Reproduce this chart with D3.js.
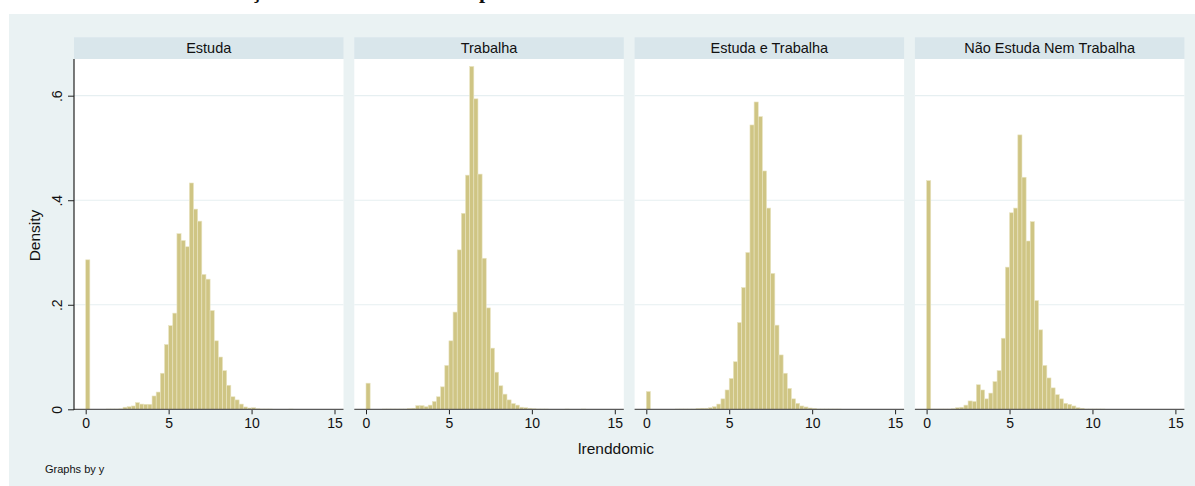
<!DOCTYPE html>
<html>
<head>
<meta charset="utf-8">
<script src="https://cdn.jsdelivr.net/npm/d3@7"></script>
<style>
  html, body { margin: 0; padding: 0; background: #ffffff; }
  svg { display: block; }
  text { font-family: "Liberation Sans", Arial, Helvetica, sans-serif; }
</style>
</head>
<body>
<svg id="chart" width="1195" height="486"></svg>
<script>
// ---------------- data ----------------
const panels = ["Estuda", "Trabalha", "Estuda e Trabalha", "Não Estuda Nem Trabalha"];
const binWidth = 0.25;           // histogram bin width (bins start at 0)
const xTicks = [0, 5, 10, 15];
const yTicks = [0, 0.2, 0.4, 0.6];
const yTickLabels = ["0", ".2", ".4", ".6"];

// density per bin (bin i covers [i*0.25, (i+1)*0.25))
const densEstuda = [
  0.286, 0, 0, 0, 0, 0.0005, 0.0005, 0.0005, 0.0008, 0.004,
  0.005, 0.0064, 0.0128, 0.010, 0.0096, 0.0096, 0.0255, 0.033, 0.069, 0.124,
  0.160, 0.184, 0.336, 0.323, 0.311, 0.433, 0.383, 0.360, 0.258, 0.249,
  0.189, 0.131, 0.100, 0.074, 0.046, 0.024, 0.018, 0.010, 0.0045, 0.0025,
  0.003, 0.001, 0.0005, 0.0005, 0.0005, 0, 0, 0, 0, 0.0005,
  0, 0, 0, 0, 0, 0, 0, 0, 0, 0
];
const densTrabalha = [
  0.050, 0, 0, 0, 0.0005, 0.0005, 0.0005, 0.0005, 0.0005, 0.0005,
  0.0015, 0.002, 0.007, 0.007, 0.005, 0.008, 0.015, 0.024, 0.043, 0.084,
  0.131, 0.186, 0.305, 0.375, 0.448, 0.656, 0.594, 0.450, 0.289, 0.194,
  0.117, 0.071, 0.045, 0.029, 0.018, 0.011, 0.008, 0.004, 0.003, 0.002,
  0.001, 0.0005, 0.0005, 0.0005, 0, 0, 0, 0, 0.0005, 0,
  0, 0, 0.0005, 0, 0, 0, 0, 0, 0, 0
];
const densEstudaTrabalha = [
  0.034, 0, 0, 0, 0, 0, 0, 0.0005, 0.0005, 0.0005,
  0.0005, 0.0005, 0.0015, 0.002, 0.002, 0.003, 0.005, 0.010, 0.020, 0.037,
  0.059, 0.091, 0.166, 0.233, 0.300, 0.544, 0.588, 0.560, 0.456, 0.385,
  0.260, 0.161, 0.104, 0.069, 0.040, 0.020, 0.0115, 0.0064, 0.0045, 0.0025,
  0.0015, 0.0005, 0.0005, 0.0005, 0.0005, 0.0005, 0.0005, 0, 0, 0,
  0, 0, 0, 0, 0, 0, 0, 0, 0, 0
];
const densNenhum = [
  0.4375, 0.0004, 0.0004, 0.0004, 0.0004, 0.0004, 0.001, 0.003, 0.004, 0.008,
  0.016, 0.015, 0.047, 0.037, 0.020, 0.031, 0.053, 0.074, 0.136, 0.272,
  0.376, 0.385, 0.525, 0.444, 0.322, 0.359, 0.208, 0.152, 0.084, 0.060,
  0.041, 0.028, 0.020, 0.0115, 0.0096, 0.0064, 0.003, 0.002, 0.0005, 0.0005,
  0.0005, 0.0005, 0.0005, 0, 0, 0, 0, 0, 0, 0,
  0, 0, 0, 0, 0, 0, 0, 0, 0, 0
];
const seriesList = [densEstuda, densTrabalha, densEstudaTrabalha, densNenhum];

// ---------------- layout ----------------
const svg = d3.select("#chart");
const W = 1195, H = 486;
const firstLeft = 74, panelStep = 280.3, panelW = 269.5;
const stripTop = 37.3, plotTop = 59, baseY = 409.3;
const xPad0 = 11.7, xPad15 = 260.5;

// outer background
svg.append("rect").attr("x", 9).attr("y", 14).attr("width", W - 9).attr("height", H - 14)
  .attr("fill", "#eaf2f3");

// page title above the graph, cut off by the top edge (only descenders show)
svg.append("text")
  .attr("x", 167).attr("y", -2)
  .attr("font-weight", "bold").attr("font-size", 22).attr("fill", "#111")
  .style("font-family", "'Liberation Serif', 'Times New Roman', serif")
  .text("Distribuição da renda domiciliar por atividade");

const y = d3.scaleLinear().domain([0, 0.6]).range([baseY, 95.7]);

panels.forEach((name, pi) => {
  const left = firstLeft + pi * panelStep;
  const x = d3.scaleLinear().domain([0, 15]).range([left + xPad0, left + xPad15]);
  const g = svg.append("g");

  // plot area
  g.append("rect").attr("x", left).attr("y", plotTop).attr("width", panelW).attr("height", baseY - plotTop)
    .attr("fill", "#ffffff");
  // strip
  g.append("rect").attr("x", left).attr("y", stripTop).attr("width", panelW).attr("height", plotTop - stripTop)
    .attr("fill", "#d9e6eb");
  g.append("text").attr("x", left + panelW / 2).attr("y", 53.3)
    .attr("text-anchor", "middle").attr("font-size", 14.5).attr("fill", "#111")
    .text(name);

  // gridlines
  g.selectAll(".grid").data(yTicks.filter(d => d > 0)).enter().append("line")
    .attr("x1", left).attr("x2", left + panelW)
    .attr("y1", d => y(d)).attr("y2", d => y(d))
    .attr("stroke", "#e6eff1").attr("stroke-width", 1.2);

  // bars
  const vals = seriesList[pi];
  g.selectAll(".bar").data(vals.map((v, i) => ({ i, v })).filter(d => d.v > 0)).enter().append("rect")
    .attr("x", d => x(d.i * binWidth))
    .attr("width", d => x((d.i + 1) * binWidth) - x(d.i * binWidth))
    .attr("y", d => y(d.v))
    .attr("height", d => baseY - y(d.v))
    .attr("fill", "#cfc584")
    .attr("stroke", "#e9e4c2").attr("stroke-width", 0.6);

  // x axis
  const xAxis = d3.axisBottom(x).tickValues(xTicks).tickSize(5).tickPadding(4).tickFormat(d3.format("d"));
  const ax = g.append("g").attr("transform", `translate(0,${baseY})`).call(xAxis);
  ax.select(".domain").remove();
  ax.append("line").attr("x1", left).attr("x2", left + panelW).attr("y1", 0).attr("y2", 0)
    .attr("stroke", "#5a5a5a").attr("stroke-width", 1.2);
  ax.selectAll(".tick line").attr("stroke", "#222");
  ax.selectAll(".tick text").attr("font-size", 14).attr("fill", "#111")
    .attr("font-family", "'Liberation Sans', Arial, sans-serif");

  if (pi === 0) {
    const yAxis = d3.axisLeft(y).tickValues(yTicks).tickSize(6).tickFormat((d, i) => yTickLabels[i]);
    const ay = g.append("g").attr("transform", `translate(${left},0)`).call(yAxis);
    ay.select(".domain").remove();
    ay.append("line").attr("x1", 0).attr("x2", 0).attr("y1", plotTop).attr("y2", baseY + 0.6)
      .attr("stroke", "#222").attr("stroke-width", 1.2);
    ay.selectAll(".tick line").attr("stroke", "#222");
    ay.selectAll(".tick text")
      .attr("x", null).attr("dy", null)
      .attr("transform", "translate(-12,0) rotate(-90)")
      .attr("text-anchor", "middle")
      .attr("font-size", 14).attr("fill", "#111")
      .attr("font-family", "'Liberation Sans', Arial, sans-serif");
  }
});

// axis titles
svg.append("text").attr("transform", "translate(40,235.5) rotate(-90)")
  .attr("text-anchor", "middle").attr("font-size", 15.5).attr("fill", "#111").text("Density");
svg.append("text").attr("x", 616).attr("y", 454)
  .attr("text-anchor", "middle").attr("font-size", 15.5).attr("fill", "#111").text("lrenddomic");
svg.append("text").attr("x", 45).attr("y", 473)
  .attr("font-size", 11).attr("fill", "#111").text("Graphs by y");
</script>
</body>
</html>
